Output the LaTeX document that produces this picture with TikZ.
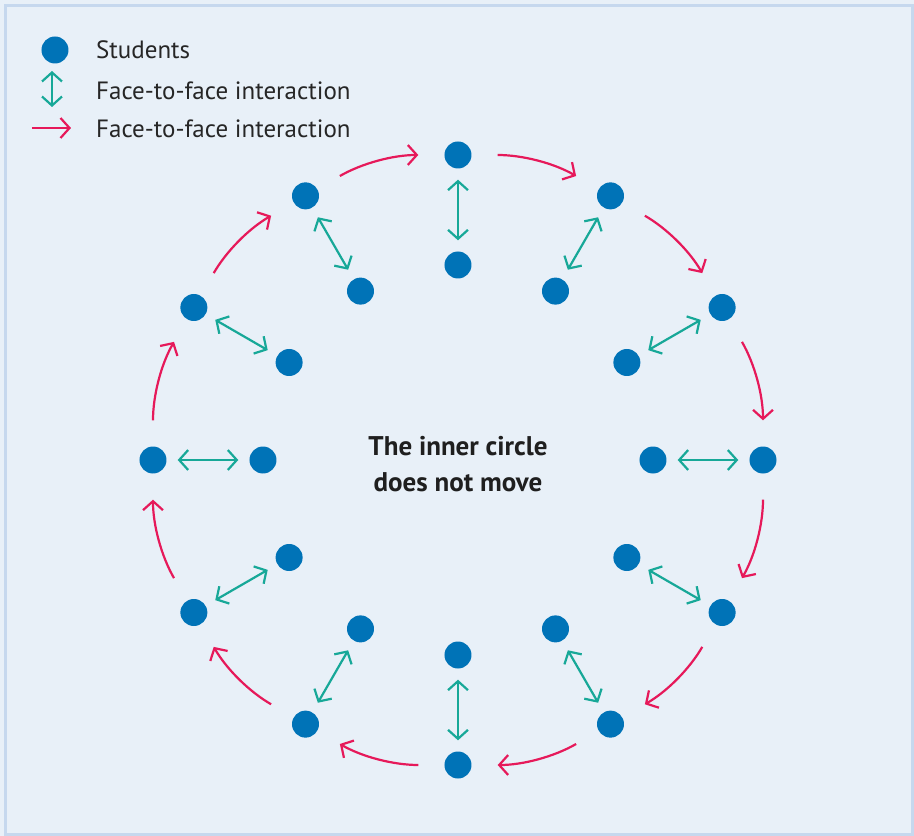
\documentclass[tikz,border=0pt]{standalone}
\usepackage{fontspec}
\setmainfont{PT Sans}
\usetikzlibrary{arrows.meta}
\definecolor{dotblue}{HTML}{0073B7}
\definecolor{teal2}{HTML}{17A898}
\definecolor{redpink}{HTML}{E6195A}
\definecolor{bgblue}{HTML}{E8F0F8}
\definecolor{frameblue}{HTML}{C6D8EE}
\tikzset{
  student/.style={circle,fill=dotblue,draw=none,inner sep=0pt,minimum size=27pt},
  talk/.style={draw=teal2,line width=2.2pt,{Straight Barb[length=9pt,width=20pt,line width=2.2pt]}-{Straight Barb[length=9pt,width=20pt,line width=2.2pt]}},
  move/.style={draw=redpink,line width=2.2pt,-{Straight Barb[length=9pt,width=20pt,line width=2.2pt]}},
  legendtext/.style={anchor=west,inner sep=0pt,font=\fontsize{25pt}{30pt}\selectfont,text=black!85},
}
\begin{document}
\begin{tikzpicture}[x=1pt,y=1pt]
\useasboundingbox (-458,-376) rectangle (456,460);
\fill[bgblue] (-458,-376) rectangle (456,460);
\draw[frameblue,line width=3pt,fill=bgblue] (-452,454) rectangle (454,-374);
% legend
\node[student] (ldot) at (-403,410) {};
\node[legendtext] (lt1) at (-362,410) {Students};
\coordinate (la1) at (-406,389);
\coordinate (la2) at (-406,353);
\draw[talk] (la1) -- (la2);
\node[legendtext] (lt2) at (-362,369) {Face-to-face interaction};
\coordinate (lb1) at (-426,332);
\coordinate (lb2) at (-387,332);
\draw[move] (lb1) -- (lb2);
\node[legendtext] (lt3) at (-362,331) {Face-to-face interaction};
% students
\foreach \k in {0,...,11}{
  \node[student] (o\k) at ({90-30*\k}:305) {};
  \node[student] (i\k) at ({90-30*\k}:195) {};
  \draw[talk,shorten <=11pt,shorten >=11pt] (o\k) -- (i\k);
}
\foreach \k in {0,...,11}{
  \pgfmathtruncatemacro{\nx}{mod(\k+1,12)}
  \draw[move,shorten <=26pt,shorten >=26pt] (o\k) to[bend left=15] (o\nx);
}
\node[font=\bfseries\fontsize{27pt}{36pt}\selectfont,align=center,text=black!88] (center) at (0,-4) {The inner circle\\does not move};
\end{tikzpicture}
\end{document}
